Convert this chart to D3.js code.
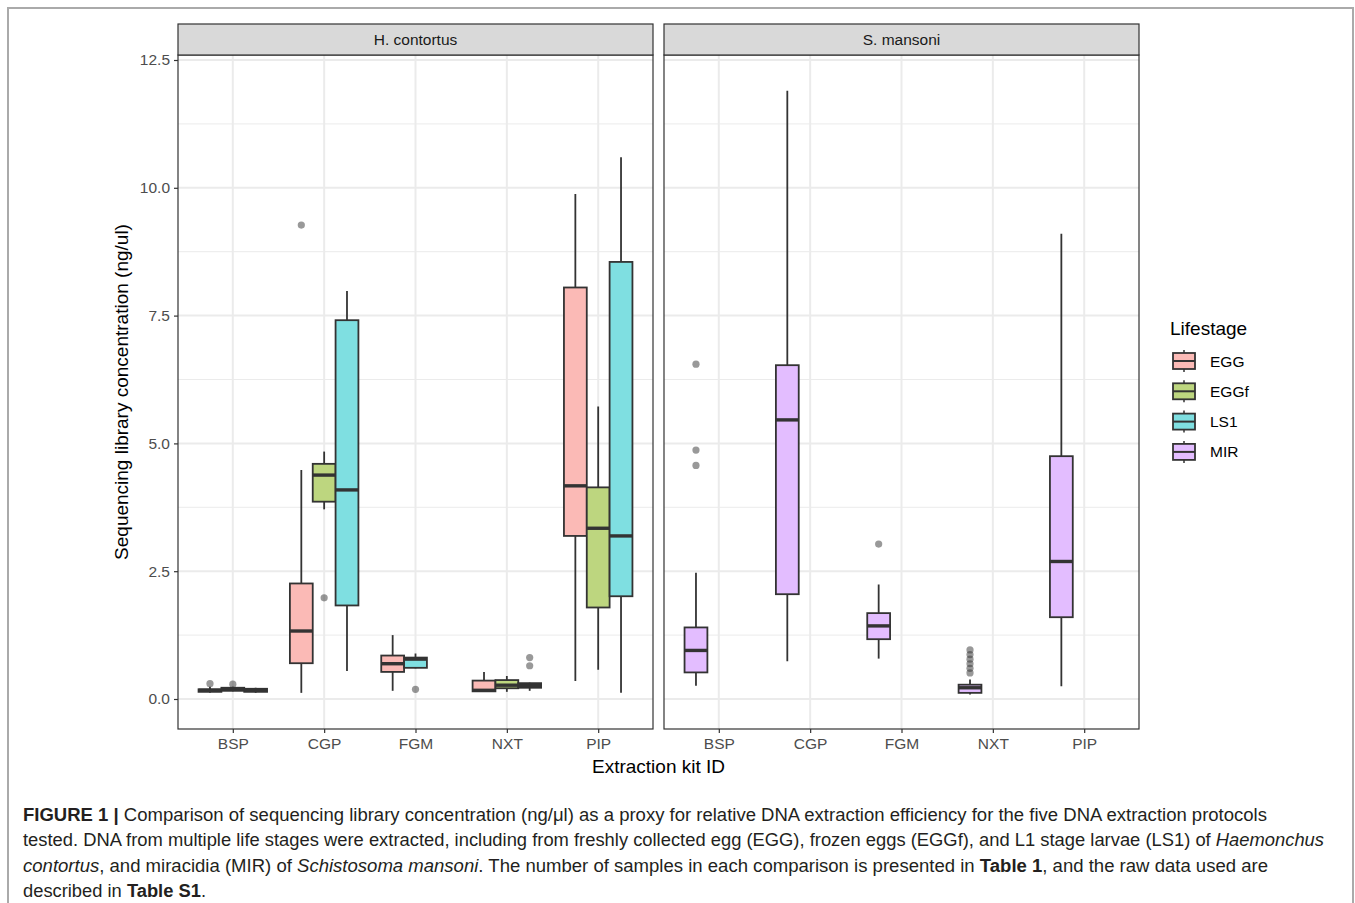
<!DOCTYPE html>
<html>
<head>
<meta charset="utf-8">
<script src="https://cdn.jsdelivr.net/npm/d3@7"></script>
<style>
  body { margin: 0; background: #fff; }
  svg { display: block; font-family: "Liberation Sans", Arial, sans-serif; }
</style>
</head>
<body>
<svg width="1355" height="903"></svg>
<script>
const kits = ['BSP', 'CGP', 'FGM', 'NXT', 'PIP']
const species = ['H. contortus', 'S. mansoni']
const lifestages = ['EGG', 'EGGf', 'LS1', 'MIR']
const stageColors = ['#F8766D', '#7CAE00', '#00BFC4', '#C77CFF']
const yTicks = [0, 2.5, 5, 7.5, 10, 12.5]
const yMinor = [1.25, 3.75, 6.25, 8.75, 11.25]

// kit, stage, lower whisker, q1, median, q3, upper whisker
const hcBoxes = [
    ['BSP', 'EGG', 0.12, 0.14, 0.17, 0.19, 0.24],
    ['BSP', 'EGGf', 0.15, 0.16, 0.19, 0.22, 0.24],
    ['BSP', 'LS1', 0.12, 0.14, 0.17, 0.20, 0.22],
    ['CGP', 'EGG', 0.12, 0.70, 1.33, 2.26, 4.48],
    ['CGP', 'EGGf', 3.71, 3.86, 4.38, 4.60, 4.84],
    ['CGP', 'LS1', 0.55, 1.83, 4.09, 7.41, 7.98],
    ['FGM', 'EGG', 0.16, 0.53, 0.69, 0.85, 1.25],
    ['FGM', 'LS1', 0.60, 0.61, 0.78, 0.81, 0.89],
    ['NXT', 'EGG', 0.14, 0.15, 0.17, 0.36, 0.53],
    ['NXT', 'EGGf', 0.14, 0.21, 0.27, 0.37, 0.45],
    ['NXT', 'LS1', 0.16, 0.22, 0.26, 0.31, 0.32],
    ['PIP', 'EGG', 0.35, 3.19, 4.17, 8.05, 9.88],
    ['PIP', 'EGGf', 0.57, 1.79, 3.34, 4.14, 5.72],
    ['PIP', 'LS1', 0.12, 2.01, 3.19, 8.55, 10.60],
]
const smBoxes = [
    ['BSP', 'MIR', 0.26, 0.52, 0.95, 1.40, 2.47],
    ['CGP', 'MIR', 0.74, 2.05, 5.46, 6.53, 11.90],
    ['FGM', 'MIR', 0.79, 1.17, 1.43, 1.68, 2.24],
    ['NXT', 'MIR', 0.09, 0.12, 0.22, 0.28, 0.38],
    ['PIP', 'MIR', 0.25, 1.60, 2.69, 4.75, 9.10],
]
// kit, stage, value
const hcOutliers = [
    ['BSP', 'EGG', 0.30],
    ['BSP', 'EGGf', 0.29],
    ['CGP', 'EGG', 9.27],
    ['CGP', 'EGGf', 1.98],
    ['FGM', 'LS1', 0.19],
    ['NXT', 'LS1', 0.81],
    ['NXT', 'LS1', 0.65],
]
const smOutliers = [
    ['BSP', 'MIR', 6.55],
    ['BSP', 'MIR', 4.87],
    ['BSP', 'MIR', 4.57],
    ['FGM', 'MIR', 3.03],
    ['NXT', 'MIR', 0.96],
    ['NXT', 'MIR', 0.87],
    ['NXT', 'MIR', 0.78],
    ['NXT', 'MIR', 0.69],
    ['NXT', 'MIR', 0.60],
    ['NXT', 'MIR', 0.51],
]

const svg = d3.select('svg')

const panelLeft = [178, 664]
const panelW = 475
const panelTop = 55
const panelH = 674
const stripTop = 24
const stripH = panelTop - stripTop

const colors = d3.scaleOrdinal().domain(lifestages).range(stageColors)
const xScale = d3.scalePoint().domain(kits).range([0, panelW]).padding(0.6)
const yScale = d3.scaleLinear().domain([0, 12.5]).range([644, 5])
const dodgeW = 0.75 * xScale.step()
const slotW = dodgeW / 3

// figure frame
svg.append('rect')
    .attr('x', 8).attr('y', 8).attr('width', 1345).attr('height', 910)
    .attr('fill', 'none').attr('stroke', '#aaa').attr('stroke-width', 2)

const panelData = [
    { name: species[0], boxes: hcBoxes, outliers: hcOutliers },
    { name: species[1], boxes: smBoxes, outliers: smOutliers },
]

panelData.forEach((p, pi) => {
    const g = svg.append('g').attr('transform', `translate(${panelLeft[pi]}, ${panelTop})`)

    // slot position: stages left-aligned within each kit
    const slotOf = (kit, stage) =>
        p.boxes.filter((b) => b[0] === kit).map((b) => b[1]).indexOf(stage)
    const cx = (kit, stage) =>
        xScale(kit) - dodgeW / 2 + slotW * slotOf(kit, stage) + slotW / 2

    // grid
    g.selectAll('line.minor').data(yMinor).enter().append('line')
        .attr('x1', 0).attr('x2', panelW)
        .attr('y1', (d) => yScale(d)).attr('y2', (d) => yScale(d))
        .attr('stroke', '#ebebeb').attr('stroke-width', 1)
    g.selectAll('line.majorY').data(yTicks).enter().append('line')
        .attr('x1', 0).attr('x2', panelW)
        .attr('y1', (d) => yScale(d)).attr('y2', (d) => yScale(d))
        .attr('stroke', '#ebebeb').attr('stroke-width', 2)
    g.selectAll('line.majorX').data(kits).enter().append('line')
        .attr('y1', 0).attr('y2', panelH)
        .attr('x1', (d) => xScale(d)).attr('x2', (d) => xScale(d))
        .attr('stroke', '#ebebeb').attr('stroke-width', 2)

    // boxes
    const bx = g.selectAll('g.box').data(p.boxes).enter().append('g').attr('class', 'box')
    bx.append('line')
        .attr('x1', (d) => cx(d[0], d[1])).attr('x2', (d) => cx(d[0], d[1]))
        .attr('y1', (d) => yScale(d[2])).attr('y2', (d) => yScale(d[6]))
        .attr('stroke', '#333').attr('stroke-width', 1.8)
    bx.append('rect')
        .attr('x', (d) => cx(d[0], d[1]) - slotW / 2)
        .attr('width', slotW)
        .attr('y', (d) => yScale(d[5]))
        .attr('height', (d) => yScale(d[3]) - yScale(d[5]))
        .attr('fill', '#fff')
    bx.append('rect')
        .attr('x', (d) => cx(d[0], d[1]) - slotW / 2)
        .attr('width', slotW)
        .attr('y', (d) => yScale(d[5]))
        .attr('height', (d) => yScale(d[3]) - yScale(d[5]))
        .attr('fill', (d) => colors(d[1])).attr('fill-opacity', 0.5)
        .attr('stroke', '#333').attr('stroke-width', 1.8)
    bx.append('line')
        .attr('x1', (d) => cx(d[0], d[1]) - slotW / 2).attr('x2', (d) => cx(d[0], d[1]) + slotW / 2)
        .attr('y1', (d) => yScale(d[4])).attr('y2', (d) => yScale(d[4]))
        .attr('stroke', '#333').attr('stroke-width', 3.4)

    g.selectAll('circle.out').data(p.outliers).enter().append('circle')
        .attr('cx', (d) => cx(d[0], d[1]))
        .attr('cy', (d) => yScale(d[2]))
        .attr('r', 3.6)
        .attr('fill', '#333').attr('fill-opacity', 0.5)

    // panel border
    g.append('rect')
        .attr('width', panelW).attr('height', panelH)
        .attr('fill', 'none').attr('stroke', '#333').attr('stroke-width', 1.2)

    // strip
    g.append('rect')
        .attr('y', -stripH).attr('width', panelW).attr('height', stripH)
        .attr('fill', '#d9d9d9').attr('stroke', '#333').attr('stroke-width', 1.2)
    g.append('text')
        .attr('x', panelW / 2).attr('y', -stripH / 2 + 5.5)
        .attr('text-anchor', 'middle').attr('font-size', 15.5).attr('fill', '#1a1a1a')
        .text(p.name)

    // x axis
    const xAxis = d3.axisBottom(xScale).tickSize(4).tickSizeOuter(0).tickPadding(5)
    const xg = g.append('g').attr('transform', `translate(0, ${panelH})`).call(xAxis)
    xg.select('.domain').remove()
    xg.selectAll('line').attr('stroke', '#333').attr('stroke-width', 1.2)
    xg.selectAll('text').attr('font-size', 15.5).attr('fill', '#4d4d4d')
        .attr('font-family', '"Liberation Sans", Arial, sans-serif')

    if (pi === 0) {
        const yAxis = d3.axisLeft(yScale).tickValues(yTicks).tickFormat(d3.format('.1f'))
            .tickSize(4).tickSizeOuter(0).tickPadding(4)
        const yg = g.append('g').call(yAxis)
        yg.select('.domain').remove()
        yg.selectAll('line').attr('stroke', '#333').attr('stroke-width', 1.2)
        yg.selectAll('text').attr('font-size', 15.5).attr('fill', '#4d4d4d')
            .attr('font-family', '"Liberation Sans", Arial, sans-serif')
    }
})

// axis titles
svg.append('text')
    .attr('transform', `translate(128, ${panelTop + panelH / 2}) rotate(-90)`)
    .attr('text-anchor', 'middle').attr('font-size', 19).attr('fill', '#000')
    .text('Sequencing library concentration (ng/ul)')
svg.append('text')
    .attr('x', (panelLeft[0] + panelLeft[1] + panelW) / 2).attr('y', 773)
    .attr('text-anchor', 'middle').attr('font-size', 19).attr('fill', '#000')
    .text('Extraction kit ID')

// legend
const legend = svg.append('g').attr('transform', 'translate(1170, 335)')
legend.append('text').attr('x', 0).attr('y', 0).attr('font-size', 19).text('Lifestage')
const items = legend.selectAll('g.item').data(lifestages).enter().append('g')
    .attr('transform', (d, i) => `translate(0, ${26 + i * 30.3})`)
items.append('line')
    .attr('x1', 14).attr('x2', 14).attr('y1', -11).attr('y2', 11)
    .attr('stroke', '#333').attr('stroke-width', 1.5)
items.append('rect')
    .attr('x', 3).attr('y', -8).attr('width', 22).attr('height', 16)
    .attr('fill', '#fff')
items.append('rect')
    .attr('x', 3).attr('y', -8).attr('width', 22).attr('height', 16)
    .attr('fill', (d) => colors(d)).attr('fill-opacity', 0.5)
    .attr('stroke', '#333').attr('stroke-width', 1.8)
items.append('line')
    .attr('x1', 3).attr('x2', 25).attr('y1', 0).attr('y2', 0)
    .attr('stroke', '#333').attr('stroke-width', 2)
items.append('text')
    .attr('x', 40).attr('y', 5.5).attr('font-size', 15.5).attr('fill', '#000')
    .text((d) => d)

// caption
const captionLines = [
    { y: 821, w: 1244, parts: [['FIGURE 1 |', 'b'], [' Comparison of sequencing library concentration (ng/\u03bcl) as a proxy for relative DNA extraction efficiency for the five DNA extraction protocols', '']] },
    { y: 846, w: 1301, parts: [['tested. DNA from multiple life stages were extracted, including from freshly collected egg (EGG), frozen eggs (EGGf), and L1 stage larvae (LS1) of ', ''], ['Haemonchus', 'i']] },
    { y: 872, w: 1245, parts: [['contortus', 'i'], [', and miracidia (MIR) of ', ''], ['Schistosoma mansoni', 'i'], ['. The number of samples in each comparison is presented in ', ''], ['Table 1', 'b'], [', and the raw data used are', '']] },
    { y: 897, w: 183, parts: [['described in ', ''], ['Table S1', 'b'], ['.', '']] },
]
captionLines.forEach((line) => {
    const t = svg.append('text').attr('x', 23).attr('y', line.y)
        .attr('font-size', 17.5).attr('fill', '#231f20')
        .attr('textLength', line.w).attr('lengthAdjust', 'spacingAndGlyphs')
    line.parts.forEach(([s, f]) => {
        t.append('tspan').text(s)
            .attr('font-weight', f === 'b' ? 'bold' : null)
            .attr('font-style', f === 'i' ? 'italic' : null)
    })
})
</script>
</body>
</html>
